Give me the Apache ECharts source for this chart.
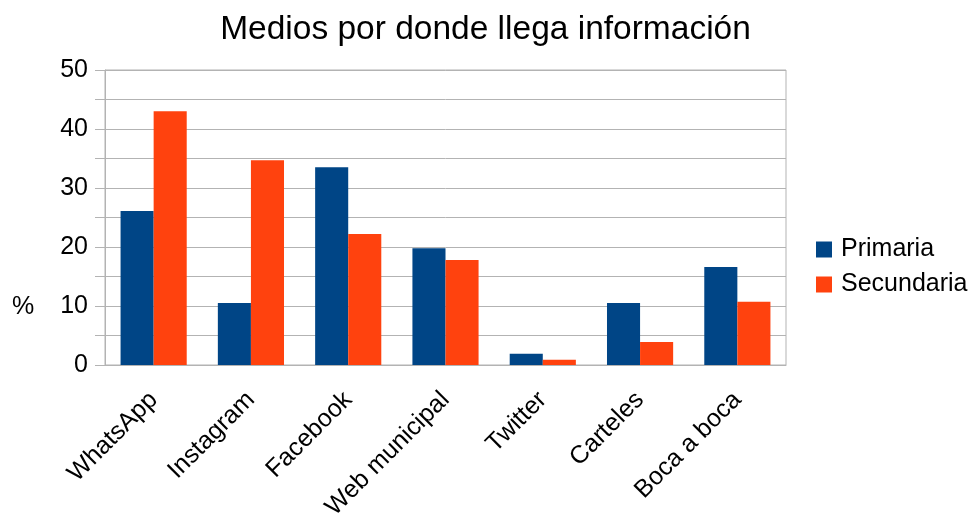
<!DOCTYPE html>
<html>
<head>
<meta charset="utf-8">
<script src="https://cdn.jsdelivr.net/npm/echarts@6/dist/echarts.min.js"></script>
<style>
  html, body { margin: 0; padding: 0; background: #fff; }
  #chart { width: 971px; height: 517px; }
</style>
</head>
<body>
<div id="chart"></div>
<script>
const categories = ['WhatsApp', 'Instagram', 'Facebook', 'Web municipal', 'Twitter', 'Carteles', 'Boca a boca']
const primaria = [26.1, 10.5, 33.5, 19.8, 1.9, 10.5, 16.6]
const secundaria = [43.0, 34.7, 22.2, 17.8, 0.9, 3.9, 10.7]

const FONT = '"Liberation Sans", Arial, sans-serif'
const GRID_COLOR = '#b3b3b3'

const chart = echarts.init(document.getElementById('chart'))

const option = {
  animation: false,
  textStyle: { fontFamily: FONT },
  title: {
    text: 'Medios por donde llega información',
    left: 'center',
    top: 8,
    textStyle: { fontFamily: FONT, fontSize: 33.5, fontWeight: 'normal', color: '#000' }
  },
  // axis title sits beside the 10 tick in the original, not at the middle
  graphic: [{
    type: 'text',
    left: 12,
    top: 295,
    style: { text: '%', font: '25px "Liberation Sans", Arial, sans-serif', fill: '#000' }
  }],
  legend: {
    orient: 'vertical',
    left: 811,
    top: 232,
    itemWidth: 16,
    itemHeight: 16,
    itemGap: 10,
    icon: 'rect',
    textStyle: { fontFamily: FONT, fontSize: 25, color: '#000', padding: [0, 0, 0, 4] },
    data: ['Primaria', 'Secundaria']
  },
  grid: {
    left: 105, right: 185, top: 70, bottom: 152,
    outerBoundsMode: 'none',
    show: true, borderColor: GRID_COLOR, borderWidth: 1
  },
  xAxis: {
    type: 'category',
    data: categories,
    axisLine: { lineStyle: { color: GRID_COLOR } },
    axisTick: { length: 10, lineStyle: { color: GRID_COLOR } },
    axisLabel: {
      rotate: 45, margin: 31, interval: 0,
      fontFamily: FONT, fontSize: 25, color: '#000'
    }
  },
  yAxis: {
    type: 'value',
    min: 0, max: 50, interval: 5,
    axisLine: { show: true, lineStyle: { color: GRID_COLOR } },
    axisTick: { show: true, length: 10, lineStyle: { color: GRID_COLOR } },
    splitLine: { lineStyle: { color: GRID_COLOR } },
    axisLabel: {
      margin: 17,
      fontFamily: FONT, fontSize: 25, color: '#000',
      formatter: v => (v % 10 === 0 ? String(v) : '')
    }
  },
  series: [
    {
      name: 'Primaria', type: 'bar', data: primaria,
      itemStyle: { color: '#004586' },
      barGap: '0%', barCategoryGap: '32%'
    },
    {
      name: 'Secundaria', type: 'bar', data: secundaria,
      itemStyle: { color: '#ff420e' },
      barGap: '0%', barCategoryGap: '32%'
    }
  ]
}

chart.setOption(option)
</script>
</body>
</html>
